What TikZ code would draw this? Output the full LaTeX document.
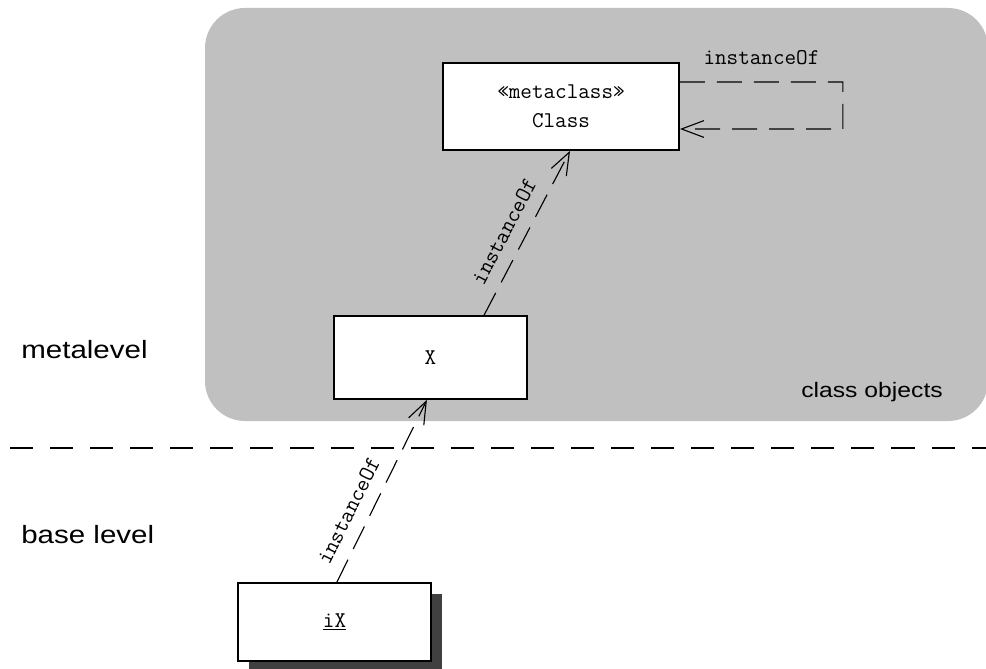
\documentclass[tikz,border=0pt]{standalone}
\usepackage{fontspec}
\newfontfamily\levelfont[FakeStretch=1.18]{Liberation Sans}
\usetikzlibrary{arrows.meta, positioning, shadows}
\definecolor{regiongray}{RGB}{192,192,192}
\definecolor{shadowgray}{RGB}{64,64,64}

\begin{document}
\begin{tikzpicture}[
  cls/.style={rectangle, draw=black, line width=1.3pt, fill=white, align=center,
    font=\ttfamily\fontsize{16}{20.6}\selectfont},
  lbl/.style={font=\ttfamily\fontsize{16}{18}\selectfont},
  level/.style={font=\levelfont\fontsize{17.8}{20}\selectfont, anchor=base west, inner sep=0pt},
  inst/.style={-{Straight Barb[length=16pt, width=12pt]}, line width=0.8pt, dash pattern=on 17.8pt off 8.5pt}
]
  \useasboundingbox (0,0) rectangle (24.65,16.7);

  % class objects region and level border
  \fill[regiongray, rounded corners=1cm] (5.125,6.175) rectangle (24.7,16.5);
  \draw[line width=1.4pt, dash pattern=on 16.4pt off 12.1pt] (0.25,5.5) -- (24.65,5.5);

  \node[level] (meta) at (0.525,7.75) {metalevel};
  \node[level] (base) at (0.525,3.125) {base level};
  \node[level, font=\levelfont\fontsize{14.9}{17}\selectfont] (objs) at (20.025,6.775) {class objects};

  % classes and instance
  \node[cls, minimum width=5.9cm, minimum height=2.175cm] (Class) at (14.025,14.0375) {«metaclass»\\Class};
  \node[cls, minimum width=4.825cm, minimum height=2.075cm] (X) at (10.7625,7.7625) {X};
  \node[cls, minimum width=4.825cm, minimum height=1.95cm,
    drop shadow={shadow xshift=0.275cm, shadow yshift=-0.275cm, fill=shadowgray, opacity=1}]
    (iX) at (8.3625,1.15) {\underline{iX}};

  % instanceOf links
  \draw[inst] ([xshift=1.34cm]X.north) -- node[lbl, sloped, above=6pt, pos=0.45] {instanceOf} ([xshift=0.225cm]Class.south);
  \draw[inst] ([xshift=0.06cm]iX.north) -- node[lbl, sloped, above=6pt, pos=0.34] {instanceOf} ([xshift=-0.09cm]X.south);
  \draw[inst] ([yshift=0.6125cm]Class.east) -- ++(4.075,0) node[lbl, midway, above=0.3cm] {instanceOf}
    -- ++(0,-1.175) -- ([yshift=-0.5625cm]Class.east);
\end{tikzpicture}
\end{document}
